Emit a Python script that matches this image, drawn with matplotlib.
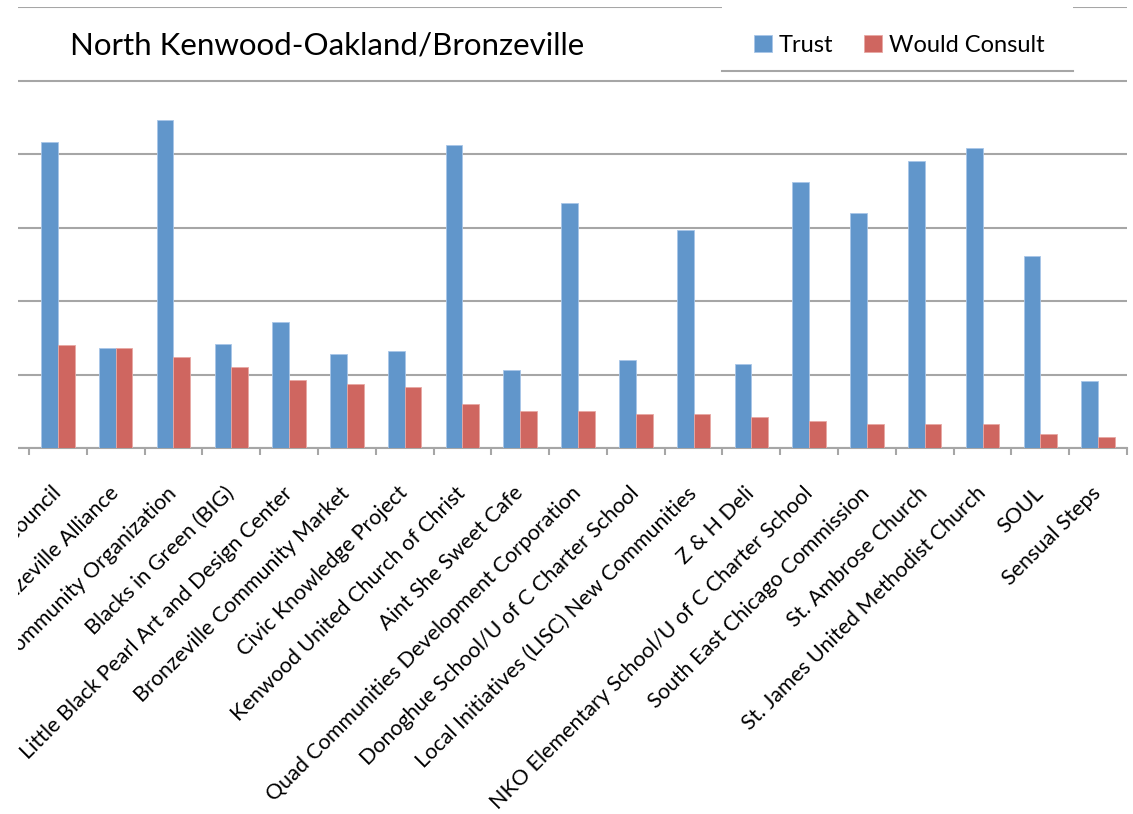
import matplotlib
matplotlib.use('Agg')
import matplotlib.pyplot as plt
import numpy as np
from matplotlib.patches import Rectangle
from matplotlib.lines import Line2D

plt.rcParams['font.family'] = ['Lato', 'DejaVu Sans']

title = "North Kenwood-Oakland/Bronzeville"
series_names = ['Trust', 'Would Consult']

organizations = [
    'Bronzeville Community Council',
    'Bronzeville Alliance',
    'Kenwood Oakland Community Organization',
    'Blacks in Green (BIG)',
    'Little Black Pearl Art and Design Center',
    'Bronzeville Community Market',
    'Civic Knowledge Project',
    'Kenwood United Church of Christ',
    'Aint She Sweet Cafe',
    'Quad Communities Development Corporation',
    'Donoghue School/U of C Charter School',
    'Local Initiatives (LISC) New Communities',
    'Z & H Deli',
    'NKO Elementary School/U of C Charter School',
    'South East Chicago Commission',
    'St. Ambrose Church',
    'St. James United Methodist Church',
    'SOUL',
    'Sensual Steps',
]
trust = [41.7, 13.7, 44.7, 14.2, 17.2, 12.8, 13.3, 41.3, 10.6, 33.4,
         12.0, 29.7, 11.5, 36.2, 32.0, 39.1, 40.8, 26.2, 9.2]
consult = [14.1, 13.7, 12.4, 11.1, 9.3, 8.8, 8.4, 6.0, 5.1, 5.1,
           4.6, 4.6, 4.2, 3.7, 3.3, 3.3, 3.3, 1.95, 1.5]

blue = '#6196CB'
red = '#CF6660'
grid_c = '#A6A6A6'

W, H = 1133, 814
fig = plt.figure(figsize=(W / 100, H / 100), dpi=100)
# plot area in pixels: x 18..1127, y 7.3..448.3
ax = fig.add_axes([18 / W, (H - 448.3) / H, (1127 - 18) / W, 441 / H])

x = np.arange(len(organizations))
bw = 0.29
b1 = ax.bar(x - bw / 2, trust, bw, color=blue, edgecolor='#A8C6E8', linewidth=0.6, zorder=3)
b2 = ax.bar(x + bw / 2, consult, bw, color=red, edgecolor='#E8A8A4', linewidth=0.6, zorder=3)

ax.set_xlim(-0.5 - 11 / 57.79, len(organizations) - 0.5)
ax.set_ylim(0, 60)
ax.set_yticks(np.arange(0, 61, 10))
ax.yaxis.grid(True, color=grid_c, linewidth=1.5, zorder=0)
ax.tick_params(axis='y', length=0, labelleft=False)
for s in ['left', 'right', 'top']:
    ax.spines[s].set_visible(False)
ax.spines['bottom'].set_color(grid_c)
ax.spines['bottom'].set_linewidth(1.5)

ax.set_xticks(x)
ax.set_xticklabels(organizations, rotation=45, ha='right', va='center',
                   rotation_mode='anchor', fontsize=15.5)
ax.tick_params(axis='x', which='major', length=0, pad=30)
ax.set_xticks(np.arange(-0.5, len(organizations)), minor=True)
ax.tick_params(axis='x', which='minor', length=5, width=1.5, color=grid_c)

# white mask on the cut left edge
fig.patches.append(Rectangle((0, 0), 18 / W, 1, transform=fig.transFigure,
                             facecolor='white', edgecolor='none', zorder=10))
# legend box
fig.patches.append(Rectangle((722 / W, (H - 71) / H), (1073 - 722) / W, 71 / H,
                             transform=fig.transFigure, facecolor='white',
                             edgecolor='none', zorder=5))
fig.lines.append(Line2D([722 / W, 1073 / W], [(H - 71) / H] * 2, transform=fig.transFigure,
                        color=grid_c, linewidth=1.5, zorder=6))

fig.text(70 / W, (H - 55) / H, title, fontsize=22.5, va='baseline', ha='left')
leg = fig.legend([b1, b2], series_names, loc='center left',
                 bbox_to_anchor=(733 / W, (H - 45) / H), frameon=False, ncol=2,
                 fontsize=17, handlelength=0.75, handleheight=0.75,
                 handletextpad=0.3, columnspacing=1.3)
leg.set_zorder(20)

fig.savefig('out.png', dpi=100)
